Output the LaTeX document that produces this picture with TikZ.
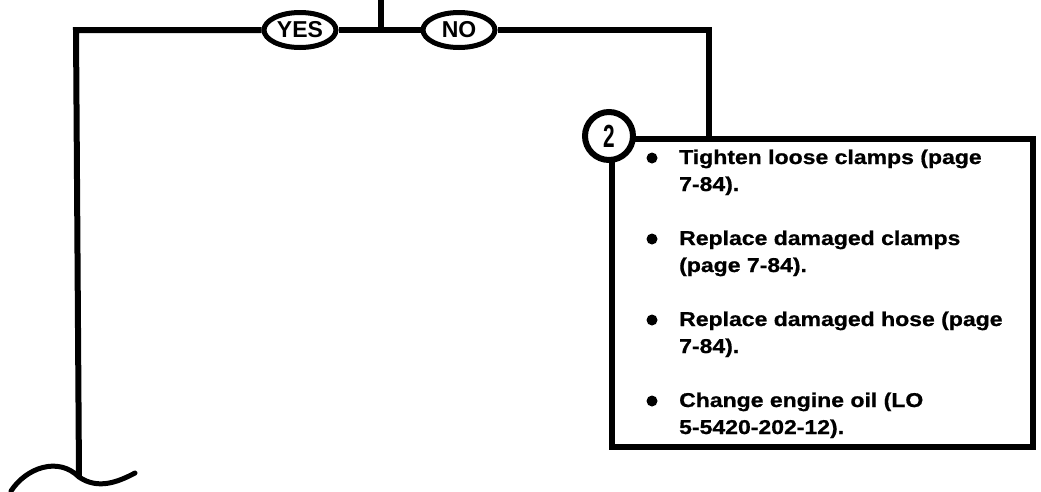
\documentclass[tikz,border=0pt]{standalone}
\usepackage{fontspec}
\setmainfont{Liberation Sans}
\newfontfamily\wideface[FakeStretch=1.15,FakeBold=0.8]{Liberation Sans}
\newfontfamily\narrowface[FakeStretch=0.65]{Liberation Sans}
\usetikzlibrary{shapes.geometric,positioning}
\tikzset{
  flow/.style={line width=6pt},
  answer/.style={ellipse, draw, line width=5pt, fill=white, inner sep=0pt,
    minimum width=72pt, minimum height=35pt, font=\bfseries\fontsize{23}{23}\selectfont},
  stepnum/.style={circle, draw, line width=6pt, fill=white, inner sep=0pt,
    minimum size=48pt, font=\narrowface\bfseries\fontsize{32}{32}\selectfont},
  actionbox/.style={draw, line width=6pt, minimum width=421pt, minimum height=308pt},
  action/.style={anchor=base west, align=left, inner sep=0pt,
    font=\wideface\bfseries\fontsize{20}{27}\selectfont},
  dot/.style={circle, fill, inner sep=0pt, minimum size=11pt}
}
\begin{document}
\begin{tikzpicture}[x=1pt, y=-1pt]
  \useasboundingbox (0,0) rectangle (1041,491);
  % answers
  \node[answer] (yes) at (300,30) {YES};
  \node[answer] (no) at (459,30) {NO};
  % step 2 box
  \node[actionbox] (box) at (822.5,293) {};
  \coordinate (stem) at (381,0);
  \coordinate (corner) at (76,30);
  \coordinate (tee) at (709,30);
  \coordinate (foot) at (79,477);
  \coordinate (wl) at (11,491);
  \coordinate (wr) at (135,473);
  \draw[flow] (stem) -- (stem |- yes.center);
  \draw[flow] (yes.east) -- (no.west);
  \draw[flow] (yes.west) -- (corner) -- (foot);
  \draw[flow] (no.east) -- (tee) -- (tee |- box.north);
  \draw[line width=5pt, line cap=round] (wl) .. controls (26,468) and (58,456) .. (foot)
    .. controls (98,490) and (118,482) .. (wr);
  \node[stepnum] (two) at (box.north west) {2};
  % actions (anchored on the last line)
  \node[action] (act1) at (679,191) {Tighten loose clamps (page\\7-84).};
  \node[action] (act2) at (679,272) {Replace damaged clamps\\(page 7-84).};
  \node[action] (act3) at (679,353) {Replace damaged hose (page\\7-84).};
  \node[action] (act4) at (679,434) {Change engine oil (LO\\5-5420-202-12).};
  \node[dot] (dot1) at (652,158) {};
  \node[dot] (dot2) at (652,239) {};
  \node[dot] (dot3) at (652,320) {};
  \node[dot] (dot4) at (652,401) {};
\end{tikzpicture}
\end{document}
